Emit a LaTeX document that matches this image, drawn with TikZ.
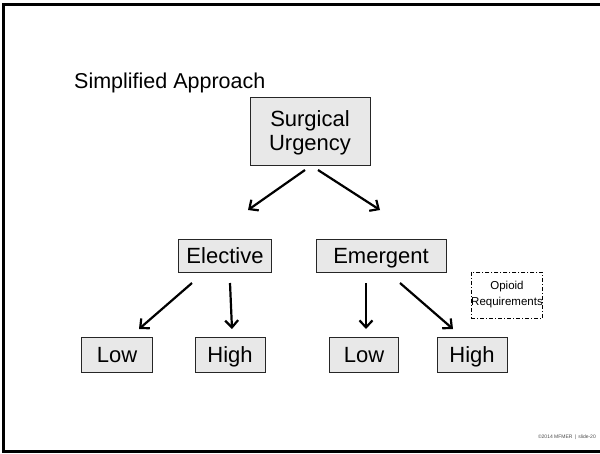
\documentclass[tikz,border=0pt]{standalone}
\usepackage{fontspec}
\setmainfont{Liberation Sans}
\usetikzlibrary{arrows.meta}
\begin{document}
\begin{tikzpicture}[x=1pt,y=-1pt,
  box/.style={draw=black!85, line width=0.8pt, fill=black!9, inner sep=0pt, font=\fontsize{22}{24}\selectfont, align=center},
  one/.style={text height=17pt, text depth=2pt},
  arr/.style={line width=2.2pt, -{Straight Barb[length=7pt,width=13pt,line width=2.2pt]}},
]
\useasboundingbox (0,0) rectangle (600,453);
\fill[white] (0,0) rectangle (600,453);
% frame
\draw[line width=3pt] (2,4.5) -- (600,4.5);
\draw[line width=3pt] (3.5,3) -- (3.5,453);
\draw[line width=3pt] (2,451.5) -- (600,451.5);
% title
\node[anchor=base west, font=\fontsize{21.5}{25}\selectfont, inner sep=0pt] (title) at (74,88) {Simplified Approach};
% boxes
\node[box, minimum width=120pt, minimum height=68pt] (su) at (310,131) {\rule{0pt}{19pt}Surgical\\Urgency\rule[-3pt]{0pt}{3pt}};
\node[box, one, minimum width=93pt, minimum height=33pt] (el) at (225,256) {Elective};
\node[box, one, minimum width=130pt, minimum height=33pt] (em) at (381,256) {Emergent};
\node[box, one, minimum width=71pt, minimum height=35pt] (l1) at (117,355) {Low};
\node[box, one, minimum width=70pt, minimum height=35pt] (h1) at (230,355) {High};
\node[box, one, minimum width=69pt, minimum height=35pt] (l2) at (364,355) {Low};
\node[box, one, minimum width=70pt, minimum height=35pt] (h2) at (472,355) {High};
\node[draw, dash pattern=on 4pt off 2pt on 1pt off 2pt, line width=0.7pt, minimum width=69pt, minimum height=46pt, inner sep=0pt, align=center, font=\fontsize{11.5}{16}\selectfont] (op) at (507,295) {Opioid\\Requirements};
% footer
\node[anchor=east, font=\fontsize{5}{6}\selectfont, text=black!70, inner sep=0pt] (ft) at (596,437) {©2014 MFMER \,|\, slide-20};
% connector coordinates
\coordinate (a1s) at (305,170);
\coordinate (a1e) at (248,210);
\coordinate (a2s) at (318,170);
\coordinate (a2e) at (380,210);
\coordinate (b1s) at (192,283);
\coordinate (b1e) at (139,329);
\coordinate (b2s) at (230,283);
\coordinate (b2e) at (232,329);
\coordinate (c1s) at (366,283);
\coordinate (c1e) at (366,329);
\coordinate (c2s) at (400,283);
\coordinate (c2e) at (453,329);
\draw[arr] (a1s) -- (a1e);
\draw[arr] (a2s) -- (a2e);
\draw[arr] (b1s) -- (b1e);
\draw[arr] (b2s) -- (b2e);
\draw[arr] (c1s) -- (c1e);
\draw[arr] (c2s) -- (c2e);
\end{tikzpicture}
\end{document}
